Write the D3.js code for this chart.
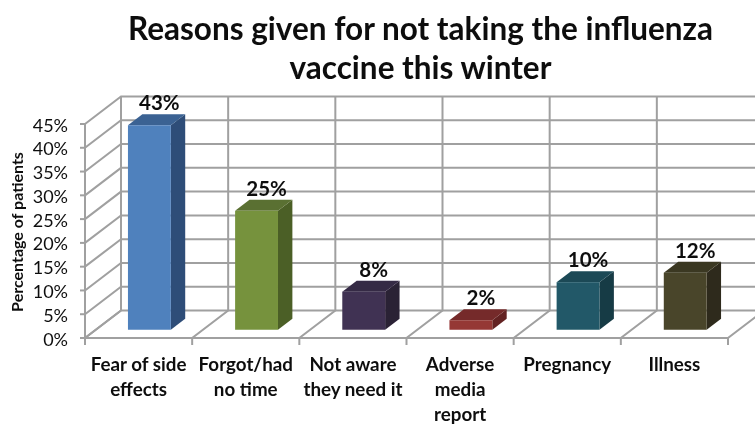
<!DOCTYPE html>
<html>
<head>
<meta charset="utf-8">
<script src="https://cdn.jsdelivr.net/npm/d3@7"></script>
<style>
  html, body { margin: 0; padding: 0; background: #fff; overflow: hidden; }
  text { font-family: Lato, "Open Sans", sans-serif; fill: #111; }
</style>
</head>
<body>
<script>
var categories = ["Fear of side effects", "Forgot/had no time", "Not aware they need it", "Adverse media report", "Pregnancy", "Illness"];
var categoryLines = [["Fear of side", "effects"], ["Forgot/had", "no time"], ["Not aware", "they need it"], ["Adverse", "media", "report"], ["Pregnancy"], ["Illness"]];
var values = [43, 25, 8, 2, 10, 12];
var valueLabels = ["43%", "25%", "8%", "2%", "10%", "12%"];
var yTicks = [0, 5, 10, 15, 20, 25, 30, 35, 40, 45];
var titleLines = ["Reasons given for not taking the influenza", "vaccine this winter"];
var frontColors = ["#4f81bd", "#76923c", "#403152", "#953735", "#215968", "#4a452a"];
var sideColors = ["#2f4e78", "#4c5f26", "#2a2036", "#632422", "#153a45", "#2f2c1b"];
var topColors = ["#3a6293", "#5a7030", "#352945", "#752b2a", "#1a4a57", "#3b3722"];

var width = 755, height = 425;
var depthX = 36, depthY = -27.5;
var gridColor = "#a0a0a0";

var svg = d3.select("body").append("svg")
    .attr("width", width)
    .attr("height", height);

// the reference is a soft upscaled picture
var blur = svg.append("defs").append("filter").attr("id", "soft");
blur.append("feGaussianBlur").attr("stdDeviation", 0.5);

var chart = svg.append("g").attr("filter", "url(#soft)");

var x = d3.scaleBand()
    .domain(categories)
    .range([85, 728]);

var y = d3.scaleLinear()
    .domain([0, 45])
    .range([338, 124]);

var band = x.bandwidth();
var barLeft = band * 0.3 + depthX * 0.3;
var barW = band * 0.4;
var barDx = depthX * 0.4, barDy = depthY * 0.4;
var barShift = depthY * 0.3;

var line = d3.line();
function draw(points, color, w) {
    chart.append("path")
        .attr("d", line(points))
        .attr("fill", "none")
        .attr("stroke", color)
        .attr("stroke-width", w || 2);
}

// back wall and left wall
yTicks.forEach(function (t) {
    draw([[85, y(t)], [85 + depthX, y(t) + depthY], [width + 5, y(t) + depthY]], gridColor);
    draw([[80, y(t)], [85, y(t)]], gridColor);
});

var floorTicks = categories.map(function (c) { return x(c); }).concat(x.range()[1]);
floorTicks.forEach(function (t) {
    draw([[t + depthX, y(45) + depthY], [t + depthX, y(0) + depthY], [t, y(0)], [t, y(0) + 7]], gridColor);
});
draw([[85, y(45)], [85, y(0)], [x.range()[1], y(0)]], gridColor);

// bars
categories.forEach(function (c, i) {
    var x0 = x(c) + barLeft;
    var h = y(0) - y(values[i]);
    var base = y(0) + barShift;
    var g = chart.append("g");
    g.append("path")
        .attr("fill", sideColors[i])
        .attr("d", line([[x0 + barW, base], [x0 + barW + barDx, base + barDy], [x0 + barW + barDx, base + barDy - h], [x0 + barW, base - h]]) + "Z");
    g.append("path")
        .attr("fill", topColors[i])
        .attr("d", line([[x0, base - h], [x0 + barDx, base - h + barDy], [x0 + barW + barDx, base - h + barDy], [x0 + barW, base - h]]) + "Z");
    g.append("rect")
        .attr("x", x0)
        .attr("y", base - h)
        .attr("width", barW)
        .attr("height", h)
        .attr("fill", frontColors[i]);

    chart.append("text")
        .attr("x", x0 + barW / 2 + 10)
        .attr("y", base - h + barDy - 4)
        .attr("text-anchor", "middle")
        .attr("font-size", 20.5)
        .attr("font-weight", 700)
        .text(valueLabels[i]);

    categoryLines[i].forEach(function (l, k) {
        chart.append("text")
            .attr("x", x(c) + band / 2)
            .attr("y", 371 + k * 25)
            .attr("text-anchor", "middle")
            .attr("font-size", 18.8)
            .attr("font-weight", 700)
            .text(l);
    });
});

// y tick labels
yTicks.forEach(function (t) {
    chart.append("text")
        .attr("x", 68)
        .attr("y", y(t) + 7.5)
        .attr("text-anchor", "end")
        .attr("font-size", 18)
        .text(t + "%");
});

chart.append("text")
    .attr("transform", "translate(23,232) rotate(-90)")
    .attr("text-anchor", "middle")
    .attr("font-size", 16)
    .attr("font-weight", 700)
    .text("Percentage of patients");

titleLines.forEach(function (l, i) {
    chart.append("text")
        .attr("x", 420.5)
        .attr("y", 40 + i * 39)
        .attr("text-anchor", "middle")
        .attr("font-size", 31.5)
        .attr("font-weight", 700)
        .text(l);
});
</script>
</body>
</html>
